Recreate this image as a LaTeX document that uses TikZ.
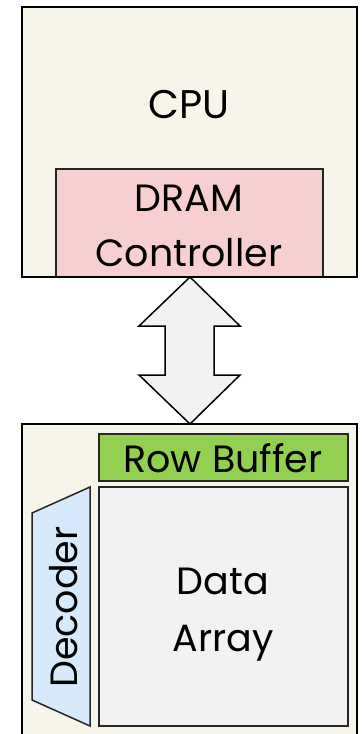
\documentclass[tikz,border=0pt]{standalone}
\usepackage{fontspec}
\setmainfont{Poppins}
\begin{document}
\begin{tikzpicture}[x=1pt,y=-1pt,
  outer/.style={draw=black,line width=2pt,fill=creamfill},
  block/.style={draw=black!85,line width=1.5pt},
  lbl/.style={font=\fontsize{38}{46}\selectfont,align=center,inner sep=0pt},
]
\definecolor{creamfill}{HTML}{F7F5EA}
\definecolor{ctrlfill}{HTML}{F7CFD0}
\definecolor{rowfill}{HTML}{92D050}
\definecolor{arrayfill}{HTML}{F2F2F2}
\definecolor{decfill}{HTML}{D6EAFB}
\useasboundingbox (0,0) rectangle (362,734);

% CPU package with its memory controller
\draw[outer] (22,7) rectangle (357,277);
\node[lbl,font=\fontsize{40}{48}\selectfont] (cpu) at (189,105) {CPU};
\draw[block,fill=ctrlfill] (56,169) rectangle (323,277);
\node[lbl] (ctrl) at (189,226) {DRAM\\[9pt]Controller};
\draw[black,line width=2pt] (22,277) -- (357,277);

% DRAM chip (runs off the bottom edge)
\draw[outer] (22,424) rectangle (357,760);
\draw[block,fill=rowfill] (99,434) rectangle (348,481);
\node[lbl] (rowbuf) at (223,458) {Row Buffer};
\draw[block,fill=arrayfill] (99,487) rectangle (348,726);
\node[lbl] (data) at (223,615) {Data\\[11pt]Array};
\draw[block,fill=decfill] (90,487) -- (90,726) -- (32,700) -- (32,513) -- cycle;
\node[lbl,rotate=90] (dec) at (64,607) {Decoder};

% bidirectional bus between controller and chip
\draw[black,line width=1.5pt,fill=arrayfill,line join=miter]
  (190,277) -- (240,326) -- (214,326) -- (214,375) -- (240,375) -- (190,424)
  -- (139,375) -- (165,375) -- (165,326) -- (139,326) -- cycle;
\end{tikzpicture}
\end{document}
